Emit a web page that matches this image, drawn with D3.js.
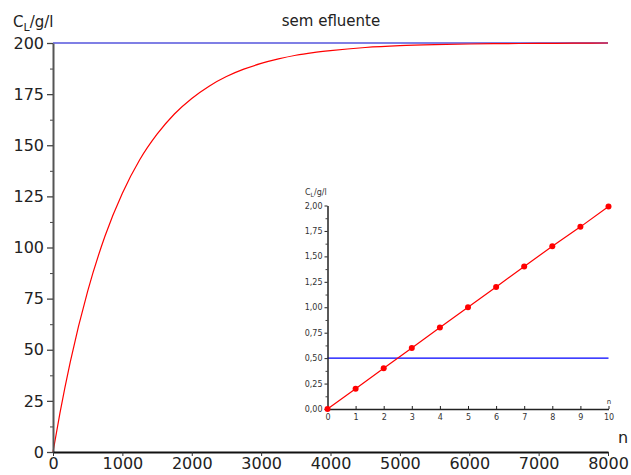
<!DOCTYPE html>
<html>
<head>
<meta charset="utf-8">
<script src="https://cdn.jsdelivr.net/npm/d3@7"></script>
<style>
  body { margin: 0; background: #fff; }
  svg { display: block; font-family: "DejaVu Sans", Verdana, sans-serif; }
</style>
</head>
<body>
<svg id="chart" width="631" height="475"></svg>
<script>
// main curve, C_L
const mainN = [0, 100, 250, 500, 750, 1000, 1250, 1500, 1750, 2000, 2250, 2500, 2750, 3000, 3250, 3500, 3750, 4000, 4500, 5000, 5500, 6000, 6500, 7000, 7500, 8000];
const mainC = [0, 19, 44.2, 78.7, 105.6, 126.5, 142.9, 155.4, 165.3, 172.9, 178.9, 183.6, 187.2, 190, 192.2, 194, 195.3, 196.3, 197.8, 198.7, 199.2, 199.5, 199.7, 199.8, 199.9, 200];
const mainYTicks = [0, 25, 50, 75, 100, 125, 150, 175, 200];
const mainXTicks = [0, 1000, 2000, 3000, 4000, 5000, 6000, 7000, 8000];
const limitMain = 200;

// inset: first ten cycles
const insetN = [0, 1, 2, 3, 4, 5, 6, 7, 8, 9, 10];
const insetC = [0, 0.2, 0.4, 0.6, 0.8, 1.0, 1.2, 1.4, 1.6, 1.79, 1.99];
const insetYTicks = [0, 0.25, 0.5, 0.75, 1.0, 1.25, 1.5, 1.75, 2.0];
const insetXTicks = [0, 1, 2, 3, 4, 5, 6, 7, 8, 9, 10];
const limitInset = 0.5;

const svg = d3.select('#chart');
const comma = v => d3.format('.2f')(v).replace('.', ',');

/**
 * MAIN PLOT
 * */
const x = d3.scaleLinear().domain([0, 8000]).range([53, 608]);
const y = d3.scaleLinear().domain([0, 200]).range([452, 43]);

svg.append('line')
    .attr('x1', x(0)).attr('x2', x(8000))
    .attr('y1', y(limitMain)).attr('y2', y(limitMain))
    .attr('stroke', '#0000cc').attr('stroke-width', 1.2);

const line = d3.line()
    .x((d, i) => x(mainN[i]))
    .y(d => y(d))
    .curve(d3.curveMonotoneX);

svg.append('path')
    .attr('d', line(mainC))
    .attr('fill', 'none')
    .attr('stroke', '#ff0000')
    .attr('stroke-width', 1.2);

// y axis (minor ticks in between)
const yMinor = svg.append('g').attr('transform', `translate(${x(0)},0)`)
    .call(d3.axisLeft(y).tickValues(d3.range(12.5, 200, 25)).tickSize(3).tickFormat(''));
yMinor.select('.domain').remove();
yMinor.selectAll('line').attr('stroke', '#444');

const yAxis = svg.append('g').attr('transform', `translate(${x(0)},0)`)
    .call(d3.axisLeft(y).tickValues(mainYTicks).tickSize(6).tickPadding(3).tickSizeOuter(0));
yAxis.select('.domain').attr('stroke', '#555').attr('stroke-width', 2);
yAxis.selectAll('line').attr('stroke', '#444').attr('stroke-width', 1.3);
yAxis.selectAll('text').attr('font-size', 16).attr('fill', '#222').attr('font-family', 'DejaVu Sans');

const xAxis = svg.append('g').attr('transform', `translate(0,${y(0)})`)
    .call(d3.axisBottom(x).tickValues(mainXTicks).tickFormat(d3.format('d'))
        .tickSize(4).tickPadding(2).tickSizeOuter(0));
xAxis.select('.domain').attr('stroke', '#111').attr('stroke-width', 2);
xAxis.selectAll('line').attr('stroke', '#333');
xAxis.selectAll('text').attr('font-size', 16).attr('fill', '#222').attr('font-family', 'DejaVu Sans');

const mainYLabel = svg.append('text').attr('x', 13).attr('y', 27)
    .attr('font-size', 15).attr('fill', '#222');
mainYLabel.append('tspan').text('C');
mainYLabel.append('tspan').attr('font-size', 11).attr('dy', 4).text('L');
mainYLabel.append('tspan').attr('dy', -4).text('/g/l');

svg.append('text').attr('x', 331).attr('y', 26)
    .attr('text-anchor', 'middle').attr('font-size', 15).attr('fill', '#222')
    .text('sem efluente');

svg.append('text').attr('x', 623).attr('y', 443)
    .attr('text-anchor', 'middle').attr('font-size', 16).attr('fill', '#222')
    .text('n');

/**
 * INSET
 * */
const xi = d3.scaleLinear().domain([0, 10]).range([327.5, 608.5]);
const yi = d3.scaleLinear().domain([0, 2]).range([409, 205.5]);

svg.append('line')
    .attr('x1', xi(0)).attr('x2', xi(10))
    .attr('y1', yi(limitInset)).attr('y2', yi(limitInset))
    .attr('stroke', '#0000ff').attr('stroke-width', 1.2);

const insetLine = d3.line()
    .x((d, i) => xi(insetN[i]))
    .y(d => yi(d));

svg.append('path')
    .attr('d', insetLine(insetC))
    .attr('fill', 'none')
    .attr('stroke', '#ff0000')
    .attr('stroke-width', 1.2);

const yiMinor = svg.append('g').attr('transform', `translate(${xi(0)},0)`)
    .call(d3.axisLeft(yi).tickValues(d3.range(0.125, 2, 0.25)).tickSize(2).tickFormat(''));
yiMinor.select('.domain').remove();
yiMinor.selectAll('line').attr('stroke', '#444');

const yiAxis = svg.append('g').attr('transform', `translate(${xi(0)},0)`)
    .call(d3.axisLeft(yi).tickValues(insetYTicks).tickSize(3).tickPadding(2).tickSizeOuter(0).tickFormat(comma));
yiAxis.select('.domain').attr('stroke', '#222').attr('stroke-width', 1.5);
yiAxis.selectAll('line').attr('stroke', '#222');
yiAxis.selectAll('text').attr('font-size', 8).attr('fill', '#333').attr('font-family', 'DejaVu Sans');

const xiAxis = svg.append('g').attr('transform', `translate(0,${yi(0)})`)
    .call(d3.axisBottom(xi).tickValues(insetXTicks).tickSizeOuter(0).tickSize(0).tickPadding(5));
xiAxis.select('.domain').attr('stroke', '#222').attr('stroke-width', 1.5);
xiAxis.selectAll('text').attr('font-size', 8).attr('fill', '#333').attr('font-family', 'DejaVu Sans');
xiAxis.selectAll('.tick').append('line')
    .attr('y1', 0).attr('y2', -3).attr('stroke', '#222');

svg.selectAll('.dot')
    .data(insetC)
    .enter().append('circle')
    .attr('class', 'dot')
    .attr('cx', (d, i) => xi(insetN[i]))
    .attr('cy', d => yi(d))
    .attr('r', 3)
    .attr('fill', '#ff0000');

const insetYLabel = svg.append('text').attr('x', 305).attr('y', 195)
    .attr('font-size', 8).attr('fill', '#333');
insetYLabel.append('tspan').text('C');
insetYLabel.append('tspan').attr('font-size', 6).attr('dy', 2).text('L');
insetYLabel.append('tspan').attr('dy', -2).text('/g/l');

svg.append('text').attr('x', 609).attr('y', 404)
    .attr('text-anchor', 'middle').attr('font-size', 7).attr('fill', '#333')
    .text('n');
</script>
</body>
</html>
